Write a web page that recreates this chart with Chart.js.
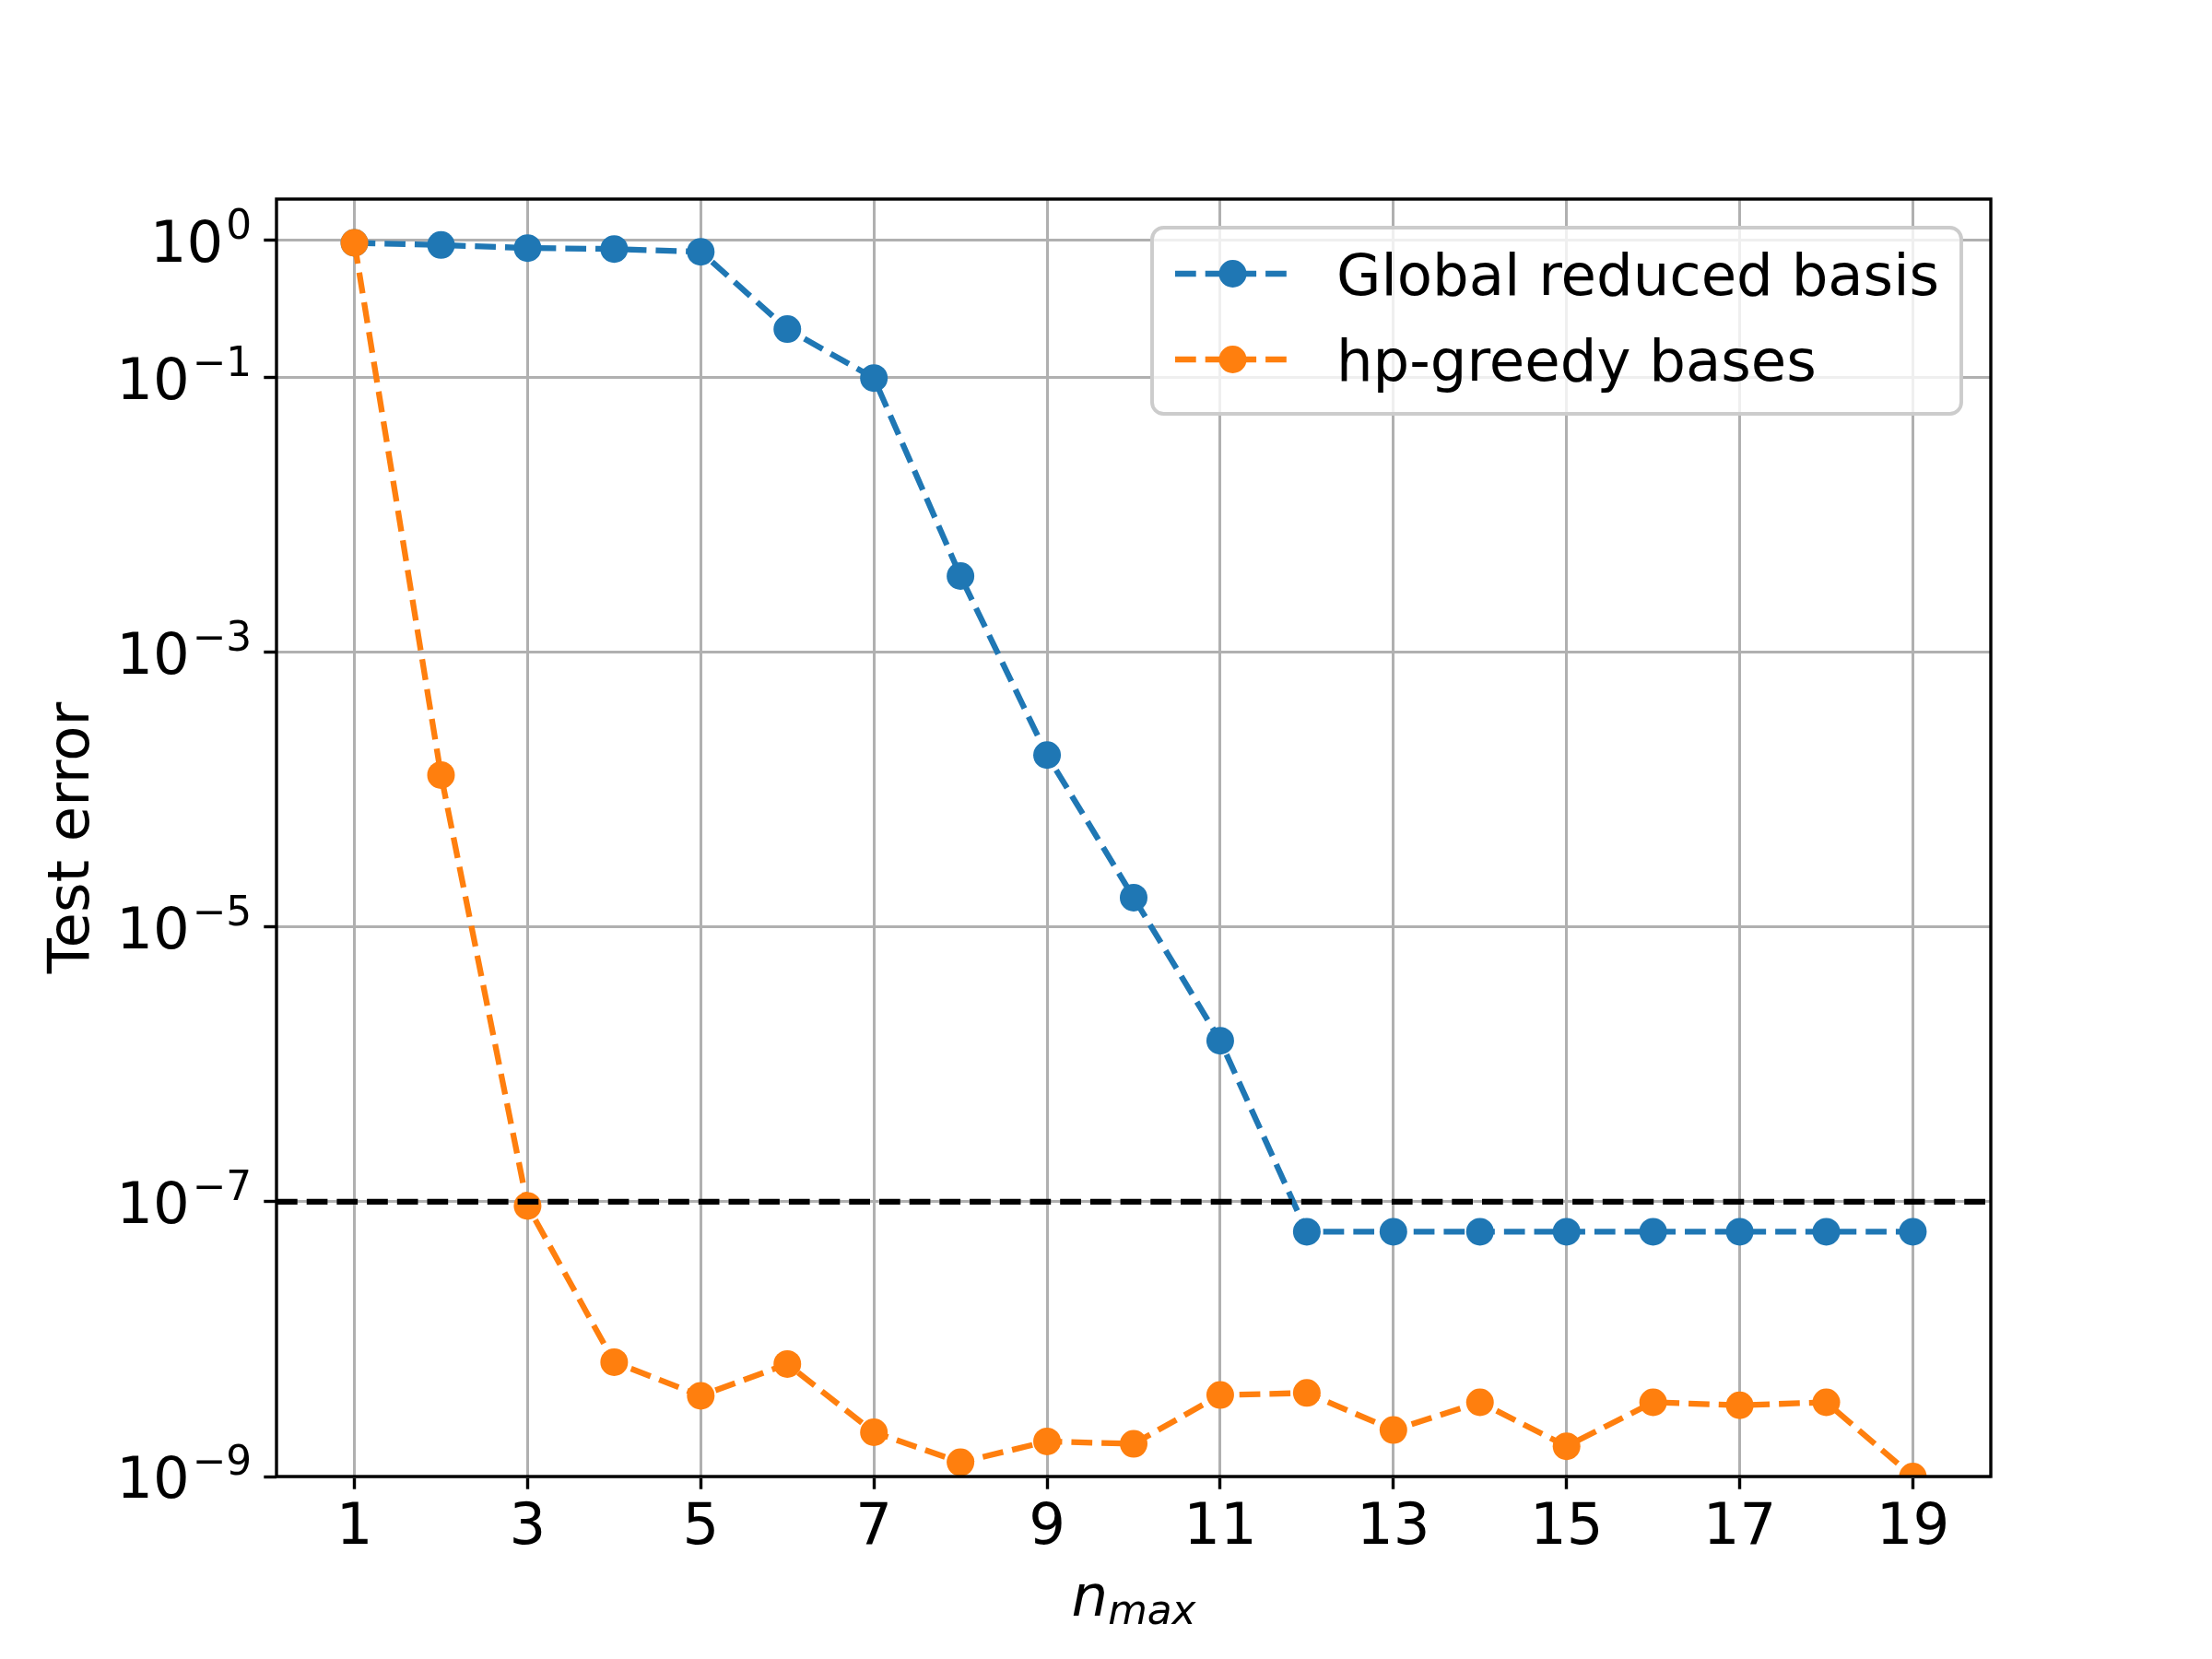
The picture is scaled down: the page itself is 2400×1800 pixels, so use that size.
<!DOCTYPE html>
<html>
<head>
<meta charset="utf-8">
<script src="https://cdn.jsdelivr.net/npm/chart.js@4.4.1/dist/chart.umd.min.js"></script>
<style>
  html, body { margin: 0; padding: 0; background: #ffffff; overflow: hidden; }
  #wrap { width: 2400px; height: 1800px; position: relative; }
  canvas { display: block; }
</style>
</head>
<body>
<div id="wrap"><canvas id="c" width="2400" height="1800"></canvas></div>
<script>
// ---- data ----
const nMax = [1, 2, 3, 4, 5, 6, 7, 8, 9, 10, 11, 12, 13, 14, 15, 16, 17, 18, 19];
const globalRB = [0.96, 0.926, 0.88, 0.866, 0.827, 0.226, 0.0995, 3.6e-3, 1.79e-4, 1.64e-5, 1.49e-6,
                  6.06e-8, 6.06e-8, 6.06e-8, 6.06e-8, 6.06e-8, 6.06e-8, 6.06e-8, 6.06e-8];
const hpGreedy = [0.96, 1.28e-4, 9.34e-8, 6.8e-9, 3.87e-9, 6.59e-9, 2.1e-9, 1.27e-9, 1.8e-9, 1.73e-9,
                  3.92e-9, 4.06e-9, 2.18e-9, 3.47e-9, 1.66e-9, 3.47e-9, 3.30e-9, 3.47e-9, 1.0e-9];
const seriesLabels = ['Global reduced basis', 'hp-greedy bases'];
const xTicks = [1, 3, 5, 7, 9, 11, 13, 15, 17, 19];
const yTicks = [1e-9, 1e-7, 1e-5, 1e-3, 1e-1, 1];
const threshold = 1e-7;
const xLimits = [0.1, 19.9];
const yLimits = [1e-9, 2];
const xTitleMain = 'n';
const xTitleSub = 'max';
const yTitle = 'Test error';

// ---- styles ----
const FONT = "'DejaVu Sans', 'Liberation Sans', sans-serif";
const FS = 62.5;
const SUPFS = 43.75;
const BLUE = '#1f77b4';
const ORANGE = '#ff7f0e';
const LW = 6.3;
const DASH = [22.7, 10];
const MR = 15;
const GRID = '#b0b0b0';
const SPINE = 3.4;
const TICKLEN = 13.7;

const toXY = (ys) => nMax.map((x, i) => ({ x: x, y: ys[i] }));

const mplPlugin = {
  id: 'mplLook',
  afterDatasetsDraw(chart) {
    const { ctx, chartArea: a, scales: { y } } = chart;
    // threshold line
    const py = y.getPixelForValue(threshold);
    ctx.save();
    ctx.beginPath();
    ctx.rect(a.left, a.top, a.right - a.left, a.bottom - a.top);
    ctx.clip();
    ctx.strokeStyle = '#000000';
    ctx.lineWidth = LW;
    ctx.setLineDash(DASH);
    ctx.beginPath();
    ctx.moveTo(a.left, py);
    ctx.lineTo(a.right, py);
    ctx.stroke();
    ctx.restore();
    // spines
    ctx.save();
    ctx.strokeStyle = '#000000';
    ctx.lineWidth = SPINE;
    ctx.setLineDash([]);
    ctx.strokeRect(a.left, a.top, a.right - a.left, a.bottom - a.top);
    ctx.restore();
  },
  afterDraw(chart) {
    const { ctx, chartArea: a, scales: { y } } = chart;
    ctx.save();
    ctx.fillStyle = '#000000';
    // y tick labels: 10^k
    const rightEdge = a.left - TICKLEN - TICKLEN + 0.6;
    yTicks.forEach(v => {
      const e = Math.round(Math.log10(v));
      const sup = e < 0 ? '\u2212' + String(-e) : String(e);
      const py = y.getPixelForValue(v);
      ctx.font = SUPFS + 'px ' + FONT;
      ctx.textAlign = 'right';
      ctx.textBaseline = 'alphabetic';
      const sw = ctx.measureText(sup).width;
      ctx.fillText(sup, rightEdge, py - 1.7);
      ctx.font = FS + 'px ' + FONT;
      ctx.fillText('10', rightEdge - sw - 3, py + 23.3);
    });
    // x title: n_max (italic, subscript)
    ctx.textAlign = 'left';
    ctx.textBaseline = 'alphabetic';
    ctx.font = 'italic ' + FS + 'px ' + FONT;
    const wMain = ctx.measureText(xTitleMain).width;
    ctx.font = 'italic ' + SUPFS + 'px ' + FONT;
    const wSub = ctx.measureText(xTitleSub).width;
    const cx = (a.left + a.right) / 2;
    const x0 = cx - (wMain + wSub) / 2;
    ctx.font = 'italic ' + FS + 'px ' + FONT;
    ctx.fillText(xTitleMain, x0, 1753);
    ctx.font = 'italic ' + SUPFS + 'px ' + FONT;
    ctx.fillText(xTitleSub, x0 + wMain, 1762);

    // legend
    const bx = 1250, by = 247, bw = 878, bh = 202, r = 12.5;
    ctx.beginPath();
    ctx.moveTo(bx + r, by);
    ctx.lineTo(bx + bw - r, by);
    ctx.arcTo(bx + bw, by, bx + bw, by + r, r);
    ctx.lineTo(bx + bw, by + bh - r);
    ctx.arcTo(bx + bw, by + bh, bx + bw - r, by + bh, r);
    ctx.lineTo(bx + r, by + bh);
    ctx.arcTo(bx, by + bh, bx, by + bh - r, r);
    ctx.lineTo(bx, by + r);
    ctx.arcTo(bx, by, bx + r, by, r);
    ctx.closePath();
    ctx.fillStyle = 'rgba(255,255,255,0.8)';
    ctx.fill();
    ctx.strokeStyle = '#cccccc';
    ctx.lineWidth = 3.9;
    ctx.stroke();

    const rows = [297, 390];
    const colors = [BLUE, ORANGE];
    const hx0 = 1275, hx1 = 1400;
    rows.forEach((ry, i) => {
      ctx.strokeStyle = colors[i];
      ctx.lineWidth = LW;
      ctx.setLineDash(DASH);
      ctx.beginPath();
      ctx.moveTo(hx0, ry);
      ctx.lineTo(hx1, ry);
      ctx.stroke();
      ctx.setLineDash([]);
      ctx.fillStyle = colors[i];
      ctx.beginPath();
      ctx.arc((hx0 + hx1) / 2, ry, MR, 0, Math.PI * 2);
      ctx.fill();
      ctx.fillStyle = '#000000';
      ctx.font = FS + 'px ' + FONT;
      ctx.textAlign = 'left';
      ctx.textBaseline = 'alphabetic';
      ctx.fillText(chart.data.datasets[i].label, 1450, ry + 22.6);
    });
    ctx.restore();
  }
};

new Chart(document.getElementById('c'), {
  type: 'line',
  data: {
    datasets: [
      {
        label: seriesLabels[0],
        data: toXY(globalRB),
        borderColor: BLUE,
        backgroundColor: BLUE,
        borderWidth: LW,
        borderDash: DASH,
        pointRadius: MR,
        pointHoverRadius: MR,
        pointBorderWidth: 0,
        pointBackgroundColor: BLUE,
        fill: false,
        tension: 0,
        clip: 0,
        order: 1
      },
      {
        label: seriesLabels[1],
        data: toXY(hpGreedy),
        borderColor: ORANGE,
        backgroundColor: ORANGE,
        borderWidth: LW,
        borderDash: DASH,
        pointRadius: MR,
        pointHoverRadius: MR,
        pointBorderWidth: 0,
        pointBackgroundColor: ORANGE,
        fill: false,
        tension: 0,
        clip: 0,
        order: 0
      }
    ]
  },
  options: {
    responsive: false,
    devicePixelRatio: 1,
    animation: false,
    events: [],
    layout: { padding: { left: 0, top: 216, right: 240, bottom: 0 } },
    plugins: {
      legend: { display: false },
      tooltip: { enabled: false },
      title: { display: false }
    },
    scales: {
      x: {
        type: 'linear',
        position: 'bottom',
        min: xLimits[0],
        max: xLimits[1],
        afterBuildTicks: (s) => { s.ticks = xTicks.map(v => ({ value: v })); },
        afterFit: (s) => { s.height = 198; },
        grid: {
          color: GRID,
          lineWidth: 3,
          drawTicks: true,
          tickLength: TICKLEN,
          tickColor: '#000000',
          tickWidth: SPINE
        },
        border: { display: false },
        ticks: {
          autoSkip: false,
          maxRotation: 0,
          minRotation: 0,
          padding: 6,
          color: '#000000',
          font: { family: FONT, size: FS },
          callback: (v) => String(v)
        }
      },
      y: {
        type: 'logarithmic',
        position: 'left',
        min: yLimits[0],
        max: yLimits[1],
        afterBuildTicks: (s) => { s.ticks = yTicks.map(v => ({ value: v })); },
        afterFit: (s) => { s.width = 300; },
        grid: {
          color: GRID,
          lineWidth: 3,
          drawTicks: true,
          tickLength: TICKLEN,
          tickColor: '#000000',
          tickWidth: SPINE
        },
        border: { display: false },
        ticks: {
          display: true,
          color: 'rgba(0,0,0,0)',
          font: { family: FONT, size: FS },
          callback: () => ''
        },
        title: {
          display: true,
          text: yTitle,
          color: '#000000',
          font: { family: FONT, size: FS },
          padding: { top: 42, bottom: 0 }
        }
      }
    }
  },
  plugins: [mplPlugin]
});
</script>
</body>
</html>
